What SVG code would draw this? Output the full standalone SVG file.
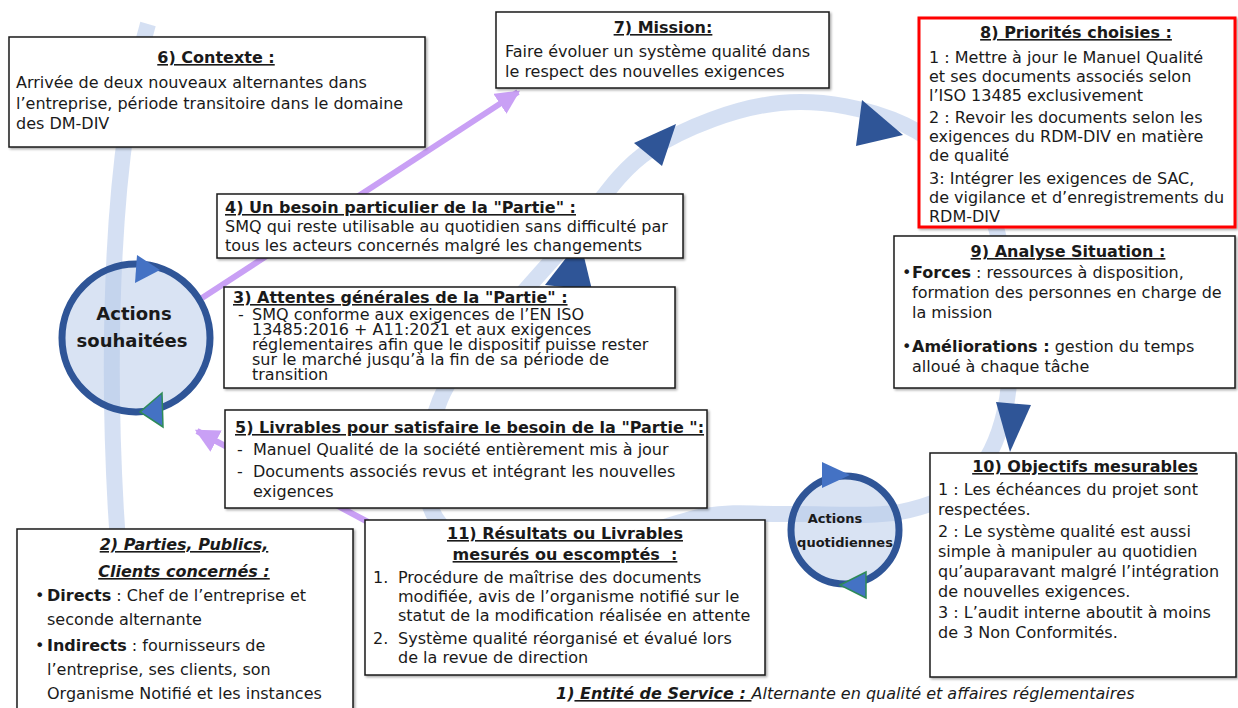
<svg xmlns="http://www.w3.org/2000/svg" width="1238" height="708" viewBox="0 0 1238 708">
<defs>
<style>
text{font-family:"DejaVu Sans",Verdana,sans-serif;font-size:16px;fill:#1a1a1a}
.t{font-weight:bold;text-decoration:underline}
.b{font-weight:bold}
.c{text-anchor:middle}
.box{fill:#fff;stroke:#1a1a1a;stroke-width:1.5;filter:url(#sh)}
.band{fill:none;stroke:#c3d3ee;stroke-opacity:0.7;stroke-width:16}
.hub{fill:#b4c7e7;fill-opacity:0.5;stroke:#2f5597;stroke-width:7}
.hubtxt{font-weight:bold;text-anchor:middle}
.tri{fill:#2f5597}
.tri2{fill:#4472c4}
.lila{stroke:#c9a0f5;stroke-width:6;fill:none}
</style>
<filter id="sh" x="-5%" y="-5%" width="110%" height="115%">
<feDropShadow dx="1.5" dy="1.5" stdDeviation="1" flood-color="#000" flood-opacity="0.35"/>
</filter>
<marker id="ah" viewBox="0 0 10 10" refX="9" refY="5" markerWidth="4" markerHeight="4" orient="auto">
<path d="M0,0 L10,5 L0,10 z" fill="#c9a0f5"/>
</marker>
</defs>
<rect width="1238" height="708" fill="#fff"/>

<!-- background cycle rings -->
<g id="rings">
<path class="band" d="M148,24 C108,160 98,420 134,708"/>
<path class="band" d="M780,103 C822.5,98.8 870.8,108.8 905,125 C939.2,141.2 967.8,169.2 985,200 C1002.2,230.8 1004.7,275 1008,310 C1011.3,345 1011.3,381.7 1005,410 C998.7,438.3 987.5,463 970,480 C952.5,497 930,506.3 900,512 C870,517.7 822.5,513.3 790,514 C757.5,514.7 736.7,510.8 705,516 C673.3,521.2 637.5,539.7 600,545 C562.5,550.3 508.7,555.5 480,548 C451.3,540.5 434.7,524.7 428,500 C421.3,475.3 428,430 440,400 C452,370 478.3,346.7 500,320 C521.7,293.3 545,268.3 570,240 C595,211.7 615,172.8 650,150 C685,127.2 737.5,107.2 780,103 Z"/>
</g>

<!-- connectors -->
<g id="connectors">
<line class="lila" x1="202" y1="298" x2="518" y2="92" marker-end="url(#ah)"/>
<line class="lila" x1="368" y1="522" x2="197" y2="431" marker-end="url(#ah)"/>
<polygon class="tri" points="580,240 545,285 592,290"/>
<polygon class="tri" points="634,143 676,124 662,166"/>
<polygon class="tri" points="862,100 903,135 856,146"/>
<polygon class="tri" points="996,402 1031,405 1010,452"/>
</g>

<g id="hub-souhaitees">
<circle class="hub" cx="136" cy="338" r="74"/>
<polygon class="tri2" points="137,255 160,270 135,283"/>
<polygon class="tri2" points="162,393 140,412 163,427" stroke="#2e8b57" stroke-width="1.5"/>
<text class="hubtxt" x="134" y="320" style="font-size:18px">Actions</text>
<text class="hubtxt" x="132" y="347" style="font-size:18px">souhaitées</text>
</g>

<g id="hub-quotidiennes">
<circle class="hub" cx="845" cy="530" r="54"/>
<polygon class="tri2" points="822,462 850,475 822,488"/>
<polygon class="tri2" points="866,572 840,585 866,598" stroke="#2e8b57" stroke-width="1.5"/>
<text class="hubtxt" x="835" y="523" style="font-size:13px">Actions</text>
<text class="hubtxt" x="845" y="547" style="font-size:13px">quotidiennes</text>
</g>

<g id="contexte">
<rect class="box" x="9" y="37" width="416" height="110"/>
<text class="t c" x="216" y="63">6) Contexte :</text>
<text x="16" y="88">Arrivée de deux nouveaux alternantes dans</text>
<text x="16" y="109">l’entreprise, période transitoire dans le domaine</text>
<text x="16" y="129">des DM-DIV</text>
</g>

<g id="mission">
<rect class="box" x="496" y="12" width="333" height="76"/>
<text class="t c" x="663" y="33">7) Mission:</text>
<text x="505" y="57">Faire évoluer un système qualité dans</text>
<text x="505" y="77">le respect des nouvelles exigences</text>
</g>

<g id="priorites">
<rect x="919" y="18" width="316" height="209" fill="#fff" stroke="#ff0000" stroke-width="3" filter="url(#sh)"/>
<text class="t c" x="1076" y="38">8) Priorités choisies :</text>
<text x="929" y="63">1 : Mettre à jour le Manuel Qualité</text>
<text x="929" y="82">et ses documents associés selon</text>
<text x="929" y="101">l’ISO 13485 exclusivement</text>
<text x="929" y="123">2 : Revoir les documents selon les</text>
<text x="929" y="142">exigences du RDM-DIV en matière</text>
<text x="929" y="161">de qualité</text>
<text x="929" y="184">3: Intégrer les exigences de SAC,</text>
<text x="929" y="203">de vigilance et d’enregistrements du</text>
<text x="929" y="222">RDM-DIV</text>
</g>

<g id="besoin">
<rect class="box" x="217" y="194" width="466" height="64"/>
<text class="t" x="225" y="213">4) Un besoin particulier de la "Partie" :</text>
<text x="225" y="232">SMQ qui reste utilisable au quotidien sans difficulté par</text>
<text x="225" y="251">tous les acteurs concernés malgré les changements</text>
</g>

<g id="attentes">
<rect class="box" x="224" y="287" width="451" height="101"/>
<text class="t" x="233" y="303">3) Attentes générales de la "Partie" :</text>
<text x="238" y="320">-</text>
<text x="252" y="320">SMQ conforme aux exigences de l’EN ISO</text>
<text x="252" y="335">13485:2016 + A11:2021 et aux exigences</text>
<text x="252" y="350">réglementaires afin que le dispositif puisse rester</text>
<text x="252" y="365">sur le marché jusqu’à la fin de sa période de</text>
<text x="252" y="380">transition</text>
</g>

<g id="analyse">
<rect class="box" x="894" y="236" width="341" height="152"/>
<text class="t c" x="1068" y="257">9) Analyse Situation :</text>
<text x="902" y="278">•<tspan class="b" x="912">Forces</tspan> : ressources à disposition,</text>
<text x="912" y="298">formation des personnes en charge de</text>
<text x="912" y="318">la mission</text>
<text x="902" y="352">•<tspan class="b" x="912">Améliorations :</tspan> gestion du temps</text>
<text x="912" y="372">alloué à chaque tâche</text>
</g>

<g id="livrables">
<rect class="box" x="225" y="410" width="482" height="98"/>
<text class="t" x="235" y="433">5) Livrables pour satisfaire le besoin de la "Partie ":</text>
<text x="237" y="455">-</text>
<text x="253" y="455">Manuel Qualité de la société entièrement mis à jour</text>
<text x="237" y="477">-</text>
<text x="253" y="477">Documents associés revus et intégrant les nouvelles</text>
<text x="253" y="497">exigences</text>
</g>

<g id="parties">
<rect class="box" x="17" y="529" width="336" height="190"/>
<text class="t c" x="184" y="550" font-style="italic">2) Parties, Publics,</text>
<text class="t c" x="184" y="577" font-style="italic">Clients concernés :</text>
<text x="35" y="601">•<tspan class="b" x="47">Directs</tspan> : Chef de l’entreprise et</text>
<text x="47" y="625">seconde alternante</text>
<text x="35" y="651">•<tspan class="b" x="47">Indirects</tspan> : fournisseurs de</text>
<text x="47" y="675">l’entreprise, ses clients, son</text>
<text x="47" y="699">Organisme Notifié et les instances</text>
<text x="47" y="723">réglementaires</text>
</g>

<g id="resultats">
<rect class="box" x="365" y="520" width="400" height="155"/>
<text class="t c" x="565" y="539">11) Résultats ou Livrables</text>
<text class="t c" x="565" y="560" xml:space="preserve">mesurés ou escomptés  :</text>
<text x="373" y="583">1.</text>
<text x="398" y="583">Procédure de maîtrise des documents</text>
<text x="398" y="602">modifiée, avis de l’organisme notifié sur le</text>
<text x="398" y="621">statut de la modification réalisée en attente</text>
<text x="373" y="644">2.</text>
<text x="398" y="644">Système qualité réorganisé et évalué lors</text>
<text x="398" y="663">de la revue de direction</text>
</g>

<g id="objectifs">
<rect class="box" x="930" y="453" width="306" height="224"/>
<text class="t c" x="1085" y="472">10) Objectifs mesurables</text>
<text x="938" y="495">1 : Les échéances du projet sont</text>
<text x="938" y="515">respectées.</text>
<text x="938" y="537">2 : Le système qualité est aussi</text>
<text x="938" y="557">simple à manipuler au quotidien</text>
<text x="938" y="577">qu’auparavant malgré l’intégration</text>
<text x="938" y="597">de nouvelles exigences.</text>
<text x="938" y="618">3 : L’audit interne aboutit à moins</text>
<text x="938" y="638">de 3 Non Conformités.</text>
</g>

<g id="entite">
<text x="556" y="699" font-style="italic" xml:space="preserve"><tspan class="b">1)</tspan><tspan class="t"> Entité de Service : </tspan>Alternante en qualité et affaires réglementaires</text>
</g>
</svg>
